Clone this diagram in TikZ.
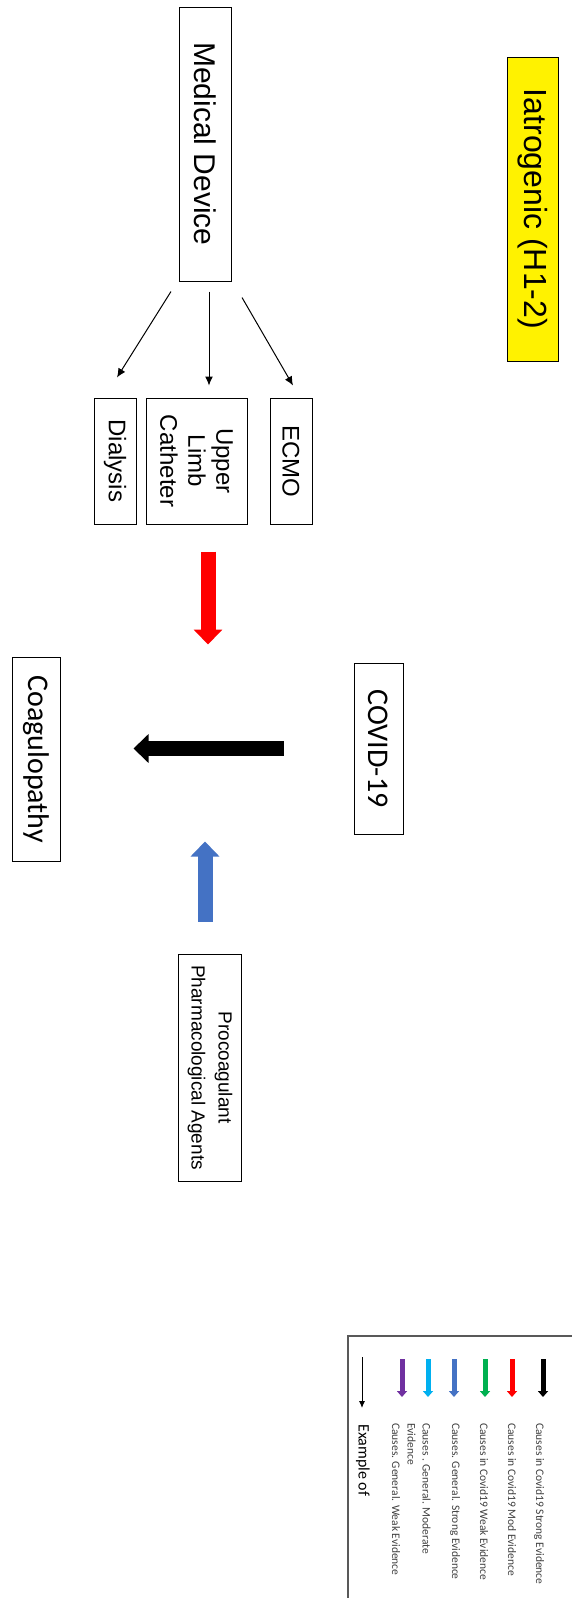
\documentclass[tikz,border=0pt]{standalone}
\usepackage{fontspec}
\setmainfont{Liberation Sans}
\newfontfamily\calibri{Carlito}
\usepackage{tikz}
\usetikzlibrary{calc,arrows.meta}

\definecolor{arrowRed}{RGB}{255,0,0}
\definecolor{arrowBlue}{RGB}{68,114,196}
\definecolor{arrowGreen}{RGB}{0,176,80}
\definecolor{arrowCyan}{RGB}{0,176,240}
\definecolor{arrowPurple}{RGB}{112,48,160}
\definecolor{legendLine}{RGB}{89,89,89}
\definecolor{legendInk}{RGB}{64,64,64}

\begin{document}
\begin{tikzpicture}[>=latex, x=1pt, y=1pt, rotate=-90, transform shape]

  \tikzstyle{box} = [draw, line width=1pt, rectangle, inner sep=2pt, align=center]
  \tikzstyle{bigText} = [font={\fontsize{30}{36}\selectfont}]
  \tikzstyle{midText} = [font={\fontsize{24}{28}\selectfont}]
  \tikzstyle{thinArrow} = [black, line width=1pt, -{Latex[length=9pt,width=8pt]}]
  \tikzstyle{blockArrow} = [line width=15pt, -{Triangle[length=15pt,width=28pt]}]
  \tikzstyle{legendArrow} = [line width=5pt, -{Triangle[length=6pt,width=10pt]}]
  \tikzstyle{legendText} = [anchor=west, inner sep=0pt, align=left, text=legendInk, font={\calibri\fontsize{11.5}{15}\selectfont}]

  \useasboundingbox (0,0) rectangle (1598,572);

  % Title
  \node[box, fill=yellow, name=title, minimum width=304, minimum height=51, font={\fontsize{32}{38}\selectfont}] at (209,532.5) {Iatrogenic (H1-2)};

  % Device and what it can be
  \node[box, bigText, name=device, minimum width=274, minimum height=52] at (144,205) {Medical Device};
  \node[box, midText, name=ecmo, minimum width=126, minimum height=42] at (461,291) {ECMO};
  \node[box, midText, name=upper, minimum width=126, minimum height=101] at (461,196.5) {Upper\\Limb\\Catheter};
  \node[box, midText, name=dialysis, minimum width=126, minimum height=42] at (461,115) {Dialysis};

  % Main chain
  \node[box, name=covid, minimum width=171, minimum height=49, font={\calibri\fontsize{30}{36}\selectfont}] at (748.5,378.5) {COVID-19};
  \node[box, name=coag, minimum width=204, minimum height=48, font={\calibri\fontsize{30}{36}\selectfont}] at (759,36) {Coagulopathy};
  \node[box, name=procoag, minimum width=227, minimum height=63, font={\fontsize{19}{27}\selectfont}] at (1067.5,210) {Procoagulant\\Pharmacological Agents};

  % Medical device splits into its three kinds
  \coordinate (deviceEcmoA) at ($(device.east) + (16,37)$);
  \draw (deviceEcmoA) edge[thinArrow] ($(ecmo.west) + (-12,2)$);
  \coordinate (deviceUpperA) at ($(device.east) + (10,4)$);
  \draw (deviceUpperA) edge[thinArrow] ($(upper.west |- deviceUpperA) + (-12,0)$);
  \coordinate (deviceDialysisA) at ($(device.east) + (10,-34)$);
  \draw (deviceDialysisA) edge[thinArrow] ($(dialysis.west) + (-20,2)$);

  % Devices feed in with moderate evidence
  \coordinate (upperRedA) at ($(upper.east) + (27,11.5)$);
  \draw (upperRedA) edge[blockArrow, arrowRed] ($(upper.east) + (120,11.5)$);

  % COVID-19 causes coagulopathy
  \coordinate (covidCoagA) at ($(covid.south) + (0,-70)$);
  \draw (covidCoagA) edge[blockArrow, black] ($(covid.south |- coag.north) + (0,73)$);

  % Drugs feed in with strong general evidence
  \coordinate (procoagBlueA) at ($(procoag.west) + (-32,-5)$);
  \draw (procoagBlueA) edge[blockArrow, arrowBlue] ($(procoag.west) + (-112,-5)$);

  % Legend (runs off the page edge)
  \draw[legendLine, line width=2pt] (1598,348) -- (1336,348) -- (1336,572);
  \draw[legendArrow, black] (1359,543) -- (1397,543);
  \draw[legendArrow, arrowRed] (1359,512) -- (1397,512);
  \draw[legendArrow, arrowGreen] (1359,485) -- (1397,485);
  \draw[legendArrow, arrowBlue] (1359,454) -- (1397,454);
  \draw[legendArrow, arrowCyan] (1359,428) -- (1397,428);
  \draw[legendArrow, arrowPurple] (1359,402) -- (1397,402);
  \draw[black, line width=1pt, -{Latex[length=7pt,width=6pt]}] (1357,362) -- (1408,362);

  \node[legendText, name=keyBlack] at (1423,539) {Causes in Covid19 Strong Evidence};
  \node[legendText, name=keyRed] at (1423,512) {Causes in Covid19 Mod Evidence};
  \node[legendText, name=keyGreen] at (1423,484) {Causes in Covid19 Weak Evidence};
  \node[legendText, name=keyBlue] at (1423,455) {Causes. General. Strong Evidence};
  \node[legendText, name=keyCyan] at (1423,419) {Causes . General. Moderate\\Evidence};
  \node[legendText, name=keyPurple] at (1423,396) {Causes. General. Weak Evidence};
  \node[legendText, name=keyExample, text=black, font={\calibri\fontsize{16}{19}\selectfont}] at (1424,363) {Example of};

\end{tikzpicture}
\end{document}
